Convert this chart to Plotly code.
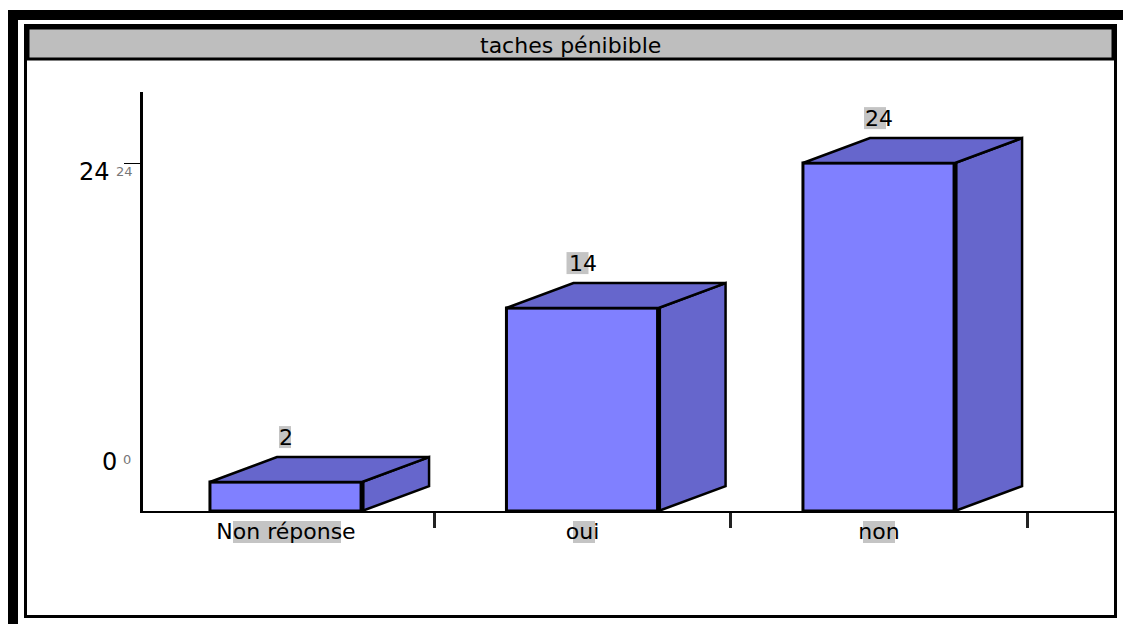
import plotly.graph_objects as go

# ---- data ----
categories = ["Non réponse", "oui", "non"]
values = [2, 14, 24]
value_labels = ["2", "14", "24"]
y_tick_labels = ["0", "24"]
title_text = "taches pénibible"

# ---- geometry / style ----
W, H = 1123, 624
ML, MR, MT, MB = 143, 7, 92, 113
PW, PH = W - ML - MR, H - MT - MB
X_RANGE = [-0.4823, 2.7993]
Y_RANGE = [0, 28.9]
BAR_W = 0.513
DX = 0.226   # 3D depth, x units
DY = 1.72    # 3D depth, y units
FRONT = "#8080FF"
DARK = "#6666CC"
FONT = "DejaVu Sans"


def px2x(px):
    return (px - ML) / PW


def px2y(py):
    return (H - MB - py) / PH


xs = list(range(len(categories)))

fig = go.Figure()

# front faces
fig.add_trace(go.Bar(
    x=xs, y=values, width=BAR_W,
    marker=dict(color=FRONT, line=dict(color="black", width=3)),
    hoverinfo="skip", showlegend=False,
))

# side faces
sx, sy = [], []
for x, v in zip(xs, values):
    r = x + BAR_W / 2
    sx += [r, r, r + DX, r + DX, r, None]
    sy += [0, v, v + DY, DY, 0, None]
fig.add_trace(go.Scatter(
    x=sx, y=sy, mode="lines", fill="toself", fillcolor=DARK,
    line=dict(color="black", width=2.5), hoverinfo="skip", showlegend=False,
))

# top faces
tx, ty = [], []
for x, v in zip(xs, values):
    l, r = x - BAR_W / 2, x + BAR_W / 2
    tx += [l, l + DX, r + DX, r, l, None]
    ty += [v, v + DY, v + DY, v, v, None]
fig.add_trace(go.Scatter(
    x=tx, y=ty, mode="lines", fill="toself", fillcolor=DARK,
    line=dict(color="black", width=2.5), hoverinfo="skip", showlegend=False,
))

# thick front-right edge
ex, ey = [], []
for x, v in zip(xs, values):
    r = x + BAR_W / 2
    ex += [r, r, None]
    ey += [0, v, None]
fig.add_trace(go.Scatter(
    x=ex, y=ey, mode="lines", line=dict(color="black", width=5),
    hoverinfo="skip", showlegend=False,
))

shapes = []
annotations = []

# value labels (with the grey tiles behind them)
tile_offsets = [(-7, 5), (-16, 6), (-15, 7)]
for x, v, t, (a, b) in zip(xs, values, value_labels, tile_offsets):
    shapes.append(dict(
        type="rect", xref="x", yref="y", xsizemode="pixel", ysizemode="pixel",
        xanchor=x, yanchor=v + DY, x0=a, x1=b, y0=9, y1=31,
        fillcolor="#C4C4C4", line=dict(width=0), layer="below",
    ))
    annotations.append(dict(
        x=x, y=v + DY, xref="x", yref="y", text=t, showarrow=False,
        xanchor="center", yanchor="middle",
        yshift=20, font=dict(family=FONT, size=22, color="black"),
    ))

# y labels
annotations.append(dict(
    x=px2x(112), y=24, xref="paper", yref="y", text=y_tick_labels[1],
    showarrow=False, xanchor="right", yanchor="middle", yshift=-9,
    font=dict(family=FONT, size=24, color="black"),
))
annotations.append(dict(
    x=px2x(114), y=24, xref="paper", yref="y", text=y_tick_labels[1],
    showarrow=False, xanchor="left", yanchor="middle", yshift=-8,
    font=dict(family=FONT, size=13, color="#777777"),
))
annotations.append(dict(
    x=px2x(119), y=0, xref="paper", yref="y", text=y_tick_labels[0],
    showarrow=False, xanchor="right", yanchor="middle", yshift=49,
    font=dict(family=FONT, size=24, color="black"),
))
annotations.append(dict(
    x=px2x(121), y=0, xref="paper", yref="y", text=y_tick_labels[0],
    showarrow=False, xanchor="left", yanchor="middle", yshift=52,
    font=dict(family=FONT, size=13, color="#777777"),
))

# grey tiles behind category labels
for (a, b) in [(233, 341), (573, 595), (863, 895)]:
    shapes.append(dict(
        type="rect", xref="paper", yref="paper",
        x0=px2x(a), x1=px2x(b), y0=px2y(543), y1=px2y(521),
        fillcolor="#C4C4C4", line=dict(width=0), layer="below",
    ))

# frame
shapes.append(dict(type="rect", xref="paper", yref="paper",
                   x0=px2x(8), x1=px2x(1123), y0=px2y(20), y1=px2y(10),
                   fillcolor="black", line=dict(width=0), layer="above"))
shapes.append(dict(type="rect", xref="paper", yref="paper",
                   x0=px2x(8), x1=px2x(18), y0=px2y(624), y1=px2y(10),
                   fillcolor="black", line=dict(width=0), layer="above"))
shapes.append(dict(type="rect", xref="paper", yref="paper",
                   x0=px2x(25.5), x1=px2x(1115.5), y0=px2y(616.5), y1=px2y(25.5),
                   fillcolor="rgba(0,0,0,0)", line=dict(color="black", width=3),
                   layer="above"))
# title box
shapes.append(dict(type="rect", xref="paper", yref="paper",
                   x0=px2x(28), x1=px2x(1113), y0=px2y(59), y1=px2y(28),
                   fillcolor="#BEBEBE", line=dict(color="black", width=3),
                   layer="above"))
annotations.append(dict(
    x=px2x(570), y=px2y(45), xref="paper", yref="paper", text=title_text,
    showarrow=False, xanchor="center", yanchor="middle",
    font=dict(family=FONT, size=22, color="black"),
))

fig.update_layout(
    width=W, height=H,
    margin=dict(l=ML, r=MR, t=MT, b=MB, pad=0),
    paper_bgcolor="white", plot_bgcolor="white",
    showlegend=False,
    shapes=shapes, annotations=annotations,
    xaxis=dict(
        range=X_RANGE, tickmode="array", tickvals=xs, ticktext=categories,
        showgrid=False, zeroline=False, showline=True, linecolor="black",
        linewidth=2, ticks="", ticklabelstandoff=0,
        tickfont=dict(family=FONT, size=22, color="black"),
        minor=dict(tickmode="array", tickvals=[0.5, 1.5, 2.5], ticks="outside",
                   ticklen=15, tickwidth=3, tickcolor="#222222", showgrid=False),
        fixedrange=True,
    ),
    yaxis=dict(
        range=Y_RANGE, tickmode="array", tickvals=[24], showticklabels=False,
        ticks="outside", ticklen=16, tickwidth=1, tickcolor="black",
        showgrid=False, zeroline=False, showline=True, linecolor="black",
        linewidth=3, fixedrange=True,
    ),
)

fig.write_html(
    "out.html",
    config={"displayModeBar": False},
    post_script="document.body.style.margin='0';document.body.style.overflow='hidden';",
)
